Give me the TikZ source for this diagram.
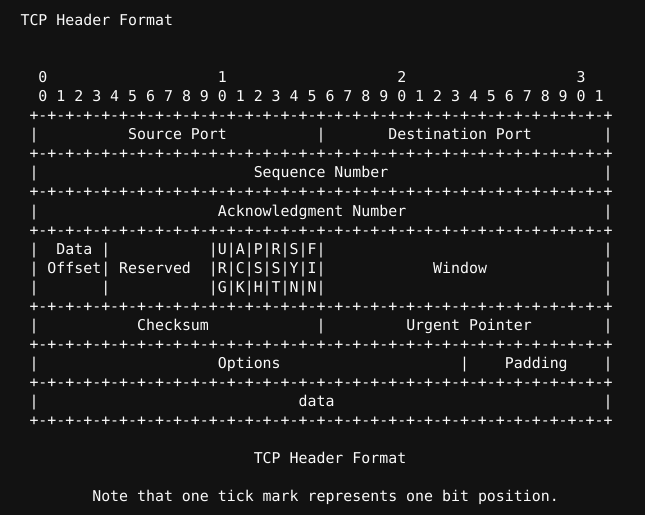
\documentclass[tikz,border=0pt]{standalone}
\usepackage{fontspec}
\setmonofont{DejaVu Sans Mono}

\definecolor{termbg}{HTML}{121212}
\definecolor{termfg}{HTML}{FAFAFA}

% one character cell and one text line, in pt
\newcommand{\cw}{8.97}
\newcommand{\lh}{19.04}
\newcommand{\sepline}{+-+-+-+-+-+-+-+-+-+-+-+-+-+-+-+-+-+-+-+-+-+-+-+-+-+-+-+-+-+-+-+-+}

\tikzset{
  term/.style={font=\ttfamily\fontsize{14.9}{19}\selectfont, text=termfg,
    inner sep=0pt, anchor=base west},
}

% \cell{name}{column}{line}{text}
\newcommand{\cell}[4]{\node[term] (#1) at ({2.4+(#2)*\cw}, {-(25.6+(#3)*\lh)}) {#4};}

\begin{document}
\begin{tikzpicture}[x=1pt, y=1pt]
    \fill[termbg] (0,0) rectangle (645,-515);

    \cell{title}{2}{0}{TCP Header Format}

    % bit numbering
    \foreach \t in {0,...,3} {
      \cell{tens\t}{4+20*\t}{3}{\t}
    }
    \foreach \b [evaluate=\b as \d using {int(mod(\b,10))}] in {0,...,31} {
      \cell{bit\b}{4+2*\b}{4}{\d}
    }

    % tick mark lines and borders
    \foreach \r in {5,7,9,11,15,17,19,21} {
      \cell{sep\r}{3}{\r}{\sepline}
    }
    \foreach \r in {6,8,10,12,13,14,16,18,20} {
      \cell{lbar\r}{3}{\r}{|}
      \cell{rbar\r}{67}{\r}{|}
    }

    \cell{srcport}{14}{6}{Source Port}
    \cell{mid6}{35}{6}{|}
    \cell{dstport}{43}{6}{Destination Port}

    \cell{seqnum}{28}{8}{Sequence Number}
    \cell{acknum}{24}{10}{Acknowledgment Number}

    \foreach \r in {12,13,14} {
      \cell{off\r}{11}{\r}{|}
    }
    \cell{data1}{6}{12}{Data}
    \cell{data2}{5}{13}{Offset}
    \cell{reserved}{13}{13}{Reserved}
    \cell{flags1}{23}{12}{|U|A|P|R|S|F|}
    \cell{flags2}{23}{13}{|R|C|S|S|Y|I|}
    \cell{flags3}{23}{14}{|G|K|H|T|N|N|}
    \cell{window}{48}{13}{Window}

    \cell{checksum}{15}{16}{Checksum}
    \cell{mid16}{35}{16}{|}
    \cell{urgent}{45}{16}{Urgent Pointer}

    \cell{options}{24}{18}{Options}
    \cell{mid18}{51}{18}{|}
    \cell{padding}{56}{18}{Padding}

    \cell{payload}{33}{20}{data}

    \cell{caption}{28}{23}{TCP Header Format}
    \cell{note}{10}{25}{Note that one tick mark represents one bit position.}
  \end{tikzpicture}
\end{document}
